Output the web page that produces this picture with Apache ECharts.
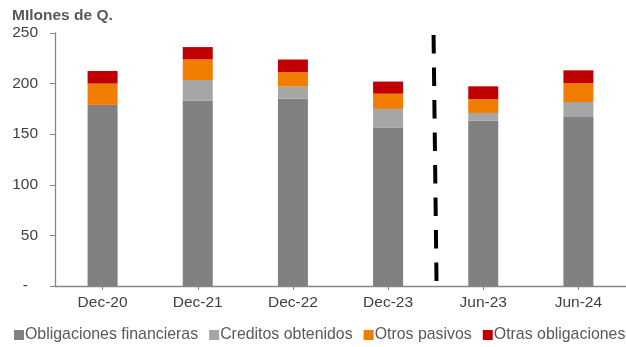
<!DOCTYPE html>
<html>
<head>
<meta charset="utf-8">
<script src="https://cdn.jsdelivr.net/npm/echarts@6/dist/echarts.min.js"></script>
<style>
  html, body { margin: 0; padding: 0; background: #ffffff; }
  #chart { width: 626px; height: 347px; }
</style>
</head>
<body>
<div id="chart"></div>
<script>
// Periods shown on the category axis
const categories = ['Dec-20', 'Dec-21', 'Dec-22', 'Dec-23', 'Jun-23', 'Jun-24'];

// Stacked components, millions of quetzales
const obligacionesFinancieras = [179, 183, 185, 156.5, 163.3, 167];
const creditosObtenidos       = [0, 20.5, 12, 18.5, 7.7, 14.8];
const otrosPasivos            = [21, 20.4, 14.3, 15, 13.8, 18.8];
const otrasObligaciones       = [12.5, 12.2, 12.5, 12, 12.5, 12.5];

// Y axis ticks
const yTicks = [0, 50, 100, 150, 200, 250];

// Separator between the year-end and mid-year periods (category index units, top to bottom)
const separatorX = [3.478, 3.509];
const separatorSpan = [248, 4];

const seriesNames = ['Obligaciones financieras', 'Creditos obtenidos', 'Otros pasivos', 'Otras obligaciones'];
const seriesData = [obligacionesFinancieras, creditosObtenidos, otrosPasivos, otrasObligaciones];
const seriesColors = ['#808080', '#A6A6A6', '#F07C00', '#C00000'];

const chart = echarts.init(document.getElementById('chart'), null, { renderer: 'canvas' });

const font = 'Liberation Sans, Arial, sans-serif';

const barSeries = seriesNames.map((name, i) => ({
  name: name,
  type: 'bar',
  stack: 'total',
  barWidth: 30,
  xAxisIndex: 0,
  yAxisIndex: 0,
  itemStyle: { color: seriesColors[i] },
  emphasis: { disabled: true },
  data: seriesData[i]
}));

const option = {
  animation: false,
  backgroundColor: '#ffffff',
  title: {
    text: 'MIlones de Q.',
    left: 7,
    top: 3,
    textStyle: { fontFamily: font, fontSize: 15.5, fontWeight: 'bold', color: '#595959' }
  },
  legend: {
    data: seriesNames,
    left: 9,
    bottom: -1,
    width: 700,
    itemWidth: 10,
    itemHeight: 10,
    itemGap: 11,
    icon: 'rect',
    textStyle: { fontFamily: font, fontSize: 15.9, color: '#595959', padding: [0, 0, 0, -4] }
  },
  grid: { left: 55, right: -3, top: 33, bottom: 61, containLabel: false },
  xAxis: [
    {
      type: 'category',
      data: categories,
      axisLine: { lineStyle: { color: '#868686', width: 1.3 } },
      axisTick: { show: true, alignWithLabel: true, length: 4, lineStyle: { color: '#868686' } },
      axisLabel: { fontFamily: font, fontSize: 15.5, color: '#404040', margin: 9 }
    },
    {
      type: 'value',
      min: -0.5,
      max: 5.5,
      show: false
    }
  ],
  yAxis: {
    type: 'value',
    min: yTicks[0],
    max: yTicks[yTicks.length - 1],
    interval: 50,
    splitLine: { show: false },
    axisLine: { show: true, onZero: false, lineStyle: { color: '#868686', width: 1.3 } },
    axisTick: { show: true, length: 5, lineStyle: { color: '#868686' } },
    axisLabel: {
      fontFamily: font,
      fontSize: 15.5,
      color: '#404040',
      margin: 17,
      formatter: v => (v === 0 ? '{d|-}' : String(v)),
      rich: { d: { fontFamily: font, fontSize: 15.5, color: '#404040', padding: [0, 10, 0, 0] } }
    }
  },
  series: barSeries.concat([
    {
      name: 'separador',
      type: 'line',
      xAxisIndex: 1,
      yAxisIndex: 0,
      symbol: 'none',
      silent: true,
      lineStyle: { color: '#000000', width: 4, type: [18.5, 14], cap: 'butt' },
      data: separatorSpan.map((v, i) => [separatorX[i], v]),
      z: 5
    }
  ])
};

chart.setOption(option);
</script>
</body>
</html>
